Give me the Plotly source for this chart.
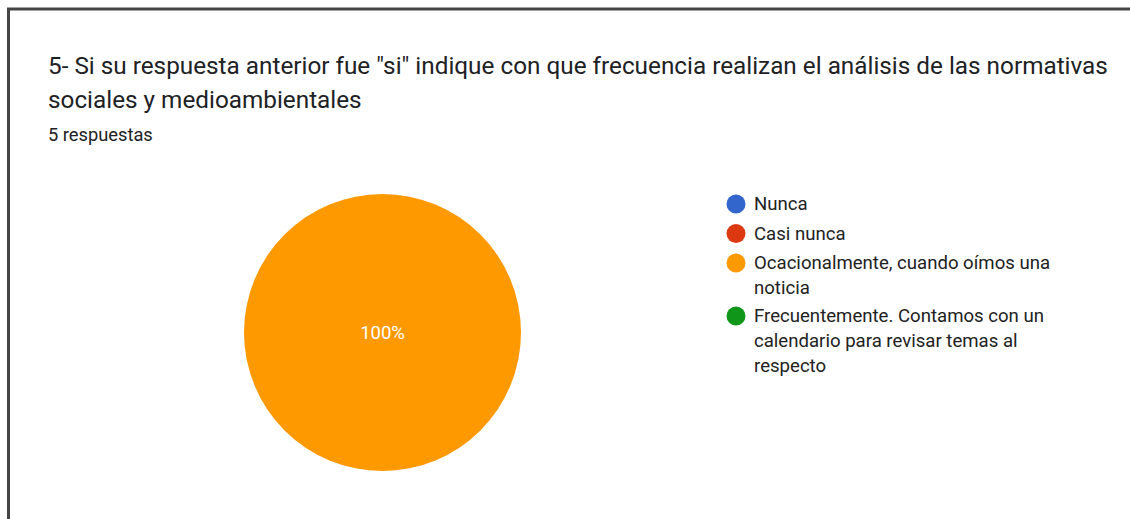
import plotly.graph_objects as go

# ---- data ----
title_lines = [
    '5- Si su respuesta anterior fue "si" indique con que frecuencia realizan el análisis de las normativas',
    'sociales y medioambientales',
]
subtitle = "5 respuestas"
categories = [
    "Nunca",
    "Casi nunca",
    "Ocacionalmente, cuando oímos una\nnoticia",
    "Frecuentemente. Contamos con un\ncalendario para revisar temas al\nrespecto",
]
values = [0, 0, 5, 0]
colors = ["#3366cc", "#dc3912", "#ff9900", "#109618"]

W, H = 1130, 519


def px(x):
    return x / W


def py(y):
    return 1 - y / H


fig = go.Figure()
fig.add_trace(go.Pie(
    labels=[c.replace("\n", " ") for c in categories],
    values=values,
    marker=dict(colors=colors, line=dict(width=0)),
    textinfo="percent",
    texttemplate="%{percent:.0%}",
    textposition="inside",
    insidetextfont=dict(color="white", size=18.5, family="Roboto"),
    sort=False,
    direction="clockwise",
    showlegend=False,
    hoverinfo="label+value+percent",
    domain=dict(x=[px(244), px(521)], y=[py(471), py(194)]),
))

annotations = []
shapes = []

# title
for i, line in enumerate(title_lines):
    annotations.append(dict(
        text=line, x=px(46), y=py(65 + i * 35), xref="paper", yref="paper",
        xanchor="left", yanchor="middle", showarrow=False,
        font=dict(family="Roboto", size=24.3, color="#202124"),
    ))
annotations.append(dict(
    text=subtitle, x=px(46), y=py(135), xref="paper", yref="paper",
    xanchor="left", yanchor="middle", showarrow=False,
    font=dict(family="Roboto", size=18.3, color="#202124"),
))

# legend (manual, circle markers)
y0 = 204
r = 9.5
for cat, col in zip(categories, colors):
    lines = cat.split("\n")
    shapes.append(dict(
        type="circle", xref="paper", yref="paper",
        x0=px(736 - r), x1=px(736 + r), y0=py(y0 + r), y1=py(y0 - r),
        fillcolor=col, line=dict(width=0),
    ))
    for j, ln in enumerate(lines):
        annotations.append(dict(
            text=ln, x=px(752), y=py(y0 + j * 25), xref="paper", yref="paper",
            xanchor="left", yanchor="middle", showarrow=False,
            font=dict(family="Roboto", size=18.6, color="#222222"),
        ))
    y0 += (len(lines) - 1) * 25 + (29.5 if len(lines) == 1 else 28)

# border (screenshot frame)
shapes.append(dict(type="line", xref="paper", yref="paper",
                   x0=px(7), x1=1, y0=py(9), y1=py(9),
                   line=dict(color="#444444", width=3)))
shapes.append(dict(type="line", xref="paper", yref="paper",
                   x0=px(8.5), x1=px(8.5), y0=py(8), y1=0,
                   line=dict(color="#444444", width=3)))

fig.update_layout(
    width=W, height=H,
    margin=dict(l=0, r=0, t=0, b=0),
    paper_bgcolor="white",
    plot_bgcolor="white",
    annotations=annotations,
    shapes=shapes,
    font=dict(family="Roboto"),
)

fig.write_html(
    "out.html",
    config={"displayModeBar": False},
    post_script="document.body.style.margin='0';document.body.style.overflow='hidden';",
)
